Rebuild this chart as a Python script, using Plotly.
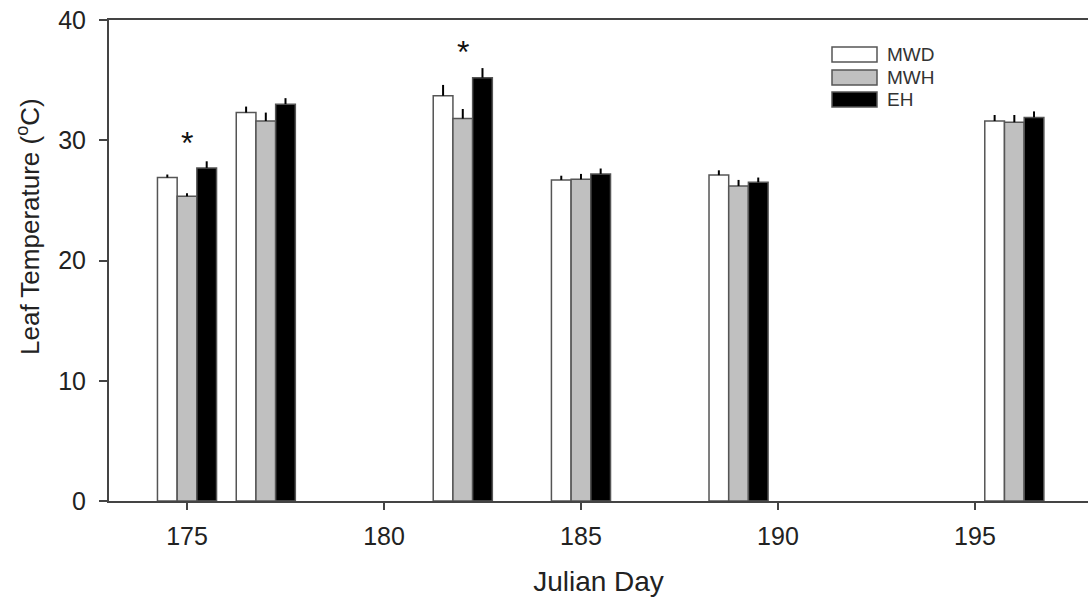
import plotly.graph_objects as go

days = [175, 177, 182, 185, 189, 196]
mwd = [26.9, 32.3, 33.7, 26.7, 27.1, 31.6]
mwh = [25.35, 31.6, 31.8, 26.75, 26.2, 31.5]
eh = [27.7, 33.0, 35.2, 27.2, 26.5, 31.9]
mwd_err = [0.25, 0.5, 0.9, 0.35, 0.4, 0.5]
mwh_err = [0.25, 0.7, 0.8, 0.45, 0.5, 0.6]
eh_err = [0.55, 0.5, 0.8, 0.45, 0.4, 0.5]
star_days = [175, 182]
star_y = [29.8, 37.3]
series_names = ["MWD", "MWH", "EH"]

W, H = 1088, 600
ML, MR, MT, MB = 109, 0, 20, 99
PW, PH = W - ML - MR, H - MT - MB


def px_x(p):
    return (p - ML) / PW


def px_y(p):
    return (H - MB - p) / PH


colors = ["white", "#c0c0c0", "black"]
offsets = [-0.75, -0.25, 0.25]
values = [mwd, mwh, eh]
errors = [mwd_err, mwh_err, eh_err]

fig = go.Figure()
for name, vals, err, col, off in zip(series_names, values, errors, colors, offsets):
    fig.add_trace(go.Bar(
        x=days, y=vals, name=name, width=0.5, offset=off,
        marker=dict(color=col, line=dict(color="#555555", width=1.5)),
        error_y=dict(type="data", symmetric=False, array=err,
                     arrayminus=[0] * len(err), width=0, thickness=2, color="black"),
        showlegend=False,
    ))

for d, yv in zip(star_days, star_y):
    fig.add_annotation(x=d, y=yv, text="*", showarrow=False,
                       font=dict(size=32, color="#111111"),
                       xanchor="center", yanchor="middle")

# legend drawn as boxes + labels
box_tops = [47, 70, 92]
for name, col, top in zip(series_names, colors, box_tops):
    fig.add_shape(type="rect", xref="paper", yref="paper",
                  x0=px_x(832), x1=px_x(877), y0=px_y(top + 15), y1=px_y(top),
                  fillcolor=col, line=dict(color="#555555", width=1.5))
    fig.add_annotation(xref="paper", yref="paper", x=px_x(885), y=px_y(top + 7.5),
                       text=name, showarrow=False, xanchor="left", yanchor="middle",
                       font=dict(size=19, color="#333333"))

# y-axis title (placed like the original, above centre)
fig.add_annotation(xref="paper", yref="paper", x=px_x(29), y=px_y(227),
                   text="Leaf Temperature (<sup>o</sup>C)", textangle=-90,
                   showarrow=False, xanchor="center", yanchor="middle",
                   font=dict(size=26, color="#222222"))

fig.update_layout(
    width=W, height=H,
    margin=dict(l=ML, r=MR, t=MT, b=MB),
    barmode="overlay",
    plot_bgcolor="white", paper_bgcolor="white",
    font=dict(family="Liberation Sans, Arial, sans-serif", color="#222222"),
    showlegend=False,
    xaxis=dict(
        range=[173.02, 197.87], tickvals=[175, 180, 185, 190, 195],
        ticks="outside", ticklen=7, tickwidth=2, tickcolor="#444444",
        showline=True, linecolor="#444444", linewidth=2, mirror=True,
        showgrid=False, zeroline=False,
        tickfont=dict(size=25), ticklabelstandoff=5,
        title=dict(text="Julian Day", font=dict(size=28), standoff=22),
    ),
    yaxis=dict(
        range=[0, 40], tickvals=[0, 10, 20, 30, 40],
        ticks="outside", ticklen=8, tickwidth=2, tickcolor="#444444",
        showline=True, linecolor="#444444", linewidth=2,
        showgrid=False, zeroline=False,
        tickfont=dict(size=25), ticklabelstandoff=8,
    ),
)

fig.write_html("out.html")
